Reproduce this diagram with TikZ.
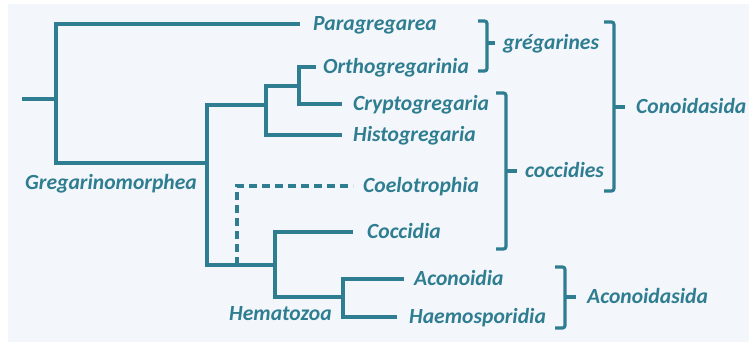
\documentclass[tikz,border=0pt]{standalone}
\usepackage{fontspec}
\setmainfont{Carlito}
\usepackage{xcolor}
\usetikzlibrary{positioning}

\definecolor{cladeteal}{RGB}{47,125,144}
\definecolor{panelbg}{RGB}{243,247,252}

\begin{document}
\begin{tikzpicture}[x=1pt, y=-1pt,
  every node/.style={font=\fontsize{21.6}{25}\selectfont\bfseries\itshape, text=cladeteal, inner sep=0pt, text height=13pt, text depth=0pt, anchor=west},
  branch/.style={draw=cladeteal, line width=3.2pt},
  uncertain/.style={branch, dash pattern=on 8pt off 5pt},
  bracket/.style={draw=cladeteal, line width=3.2pt, rounded corners=2.5pt}
]
\useasboundingbox (0,0) rectangle (749,343);
\fill[white] (0,0) rectangle (749,343);
\fill[panelbg] (8,4) rectangle (749,342);

% internal nodes of the tree
\coordinate (stem) at (22,99);
\coordinate (root) at (56,99);
\coordinate (greg) at (207,163);
\coordinate (gregA) at (266,105);
\coordinate (gregB) at (299,86);
\coordinate (split) at (237,265);
\coordinate (cocc) at (275,265);
\coordinate (hema) at (343,297);

% branch tips
\coordinate (tPara) at (300,24);
\coordinate (tOrtho) at (316,67);
\coordinate (tCrypto) at (342,104);
\coordinate (tHisto) at (342,135);
\coordinate (tCoelo) at (353,186);
\coordinate (tCocc) at (353,232);
\coordinate (tAcon) at (404,279);
\coordinate (tHaemo) at (397,317);

\node[right=13pt of tPara] (para) {Paragregarea};
\node[right=7pt of tOrtho] (ortho) {Orthogregarinia};
\node[right=11pt of tCrypto] (crypto) {Cryptogregaria};
\node[right=11pt of tHisto] (histo) {Histogregaria};
\node[right=10pt of tCoelo] (coelo) {Coelotrophia};
\node[right=14pt of tCocc] (coccidia) {Coccidia};
\node[right=10pt of tAcon] (acon) {Aconoidia};
\node[right=12pt of tHaemo] (haemo) {Haemosporidia};
\node (gregname) at (25,183) {Gregarinomorphea};
\node (hemaname) at (229,314) {Hematozoa};

\draw[branch] (stem) -- (root);
\draw[branch] (root) |- (tPara);
\draw[branch] (root) |- (greg);
\draw[branch] (greg) |- (gregA);
\draw[branch] (greg) |- (cocc);
\draw[branch] (gregA) |- (gregB);
\draw[branch] (gregA) |- (tHisto);
\draw[branch] (gregB) |- (tOrtho);
\draw[branch] (gregB) |- (tCrypto);
\draw[uncertain] (split) |- (tCoelo);
\draw[branch] (cocc) |- (tCocc);
\draw[branch] (cocc) |- (hema);
\draw[branch] (hema) |- (tAcon);
\draw[branch] (hema) |- (tHaemo);

% brackets
\draw[bracket] (478,21) -- (487,21) -- (487,71) -- (478,71);
\draw[bracket] (487,43) -- (495,43);
\node (gregarines) at (503,43) {grégarines};

\draw[bracket] (496,93) -- (506,93) -- (506,249) -- (496,249);
\draw[bracket] (506,171) -- (517,171);
\node (coccidies) at (525,171) {coccidies};

\draw[bracket] (604,22) -- (614,22) -- (614,191) -- (604,191);
\draw[bracket] (614,107) -- (625,107);
\node (conoid) at (636,107) {Conoidasida};

\draw[bracket] (555,267) -- (565,267) -- (565,328) -- (555,328);
\draw[bracket] (565,297) -- (576,297);
\node (aconoid) at (587,297) {Aconoidasida};
\end{tikzpicture}
\end{document}
